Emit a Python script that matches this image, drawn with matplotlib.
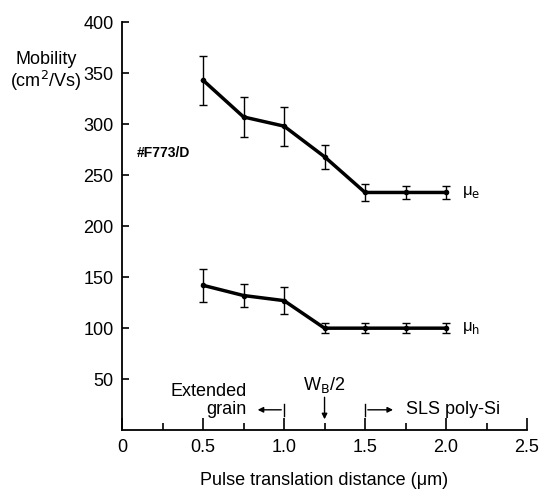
import matplotlib
matplotlib.use('Agg')
import matplotlib.pyplot as plt
from matplotlib.ticker import MultipleLocator

plt.rcParams['font.family'] = ['Liberation Sans', 'DejaVu Sans']

# --- data ---
distance = [0.5, 0.75, 1.0, 1.25, 1.5, 1.75, 2.0]
mu_e = [343, 307, 298, 268, 233, 233, 233]
mu_e_err = [24, 20, 19, 12, 8, 6, 6]
mu_h = [142, 132, 127, 100, 100, 100, 100]
mu_h_err = [16, 11, 13, 5, 5, 5, 5]

x_ticks = [0, 0.5, 1.0, 1.5, 2.0, 2.5]
x_tick_labels = ['0', '0.5', '1.0', '1.5', '2.0', '2.5']
y_ticks = [50, 100, 150, 200, 250, 300, 350, 400]

fs = 13

fig = plt.figure(figsize=(5.4, 4.9), dpi=100)
ax = fig.add_axes([0.226, 0.122, 0.75, 0.833])

for vals, errs in [(mu_e, mu_e_err), (mu_h, mu_h_err)]:
    ax.errorbar(distance, vals, yerr=errs, color='black', lw=2.5,
                elinewidth=1.0, capsize=3, capthick=1.0,
                marker='o', markersize=3, clip_on=False)

ax.text(2.1, mu_e[-1], '\u03bc$_\\mathrm{e}$', fontsize=12, va='center', ha='left')
ax.text(2.1, mu_h[-1], '\u03bc$_\\mathrm{h}$', fontsize=12, va='center', ha='left')
ax.text(0.09, 272, '#F773/D', fontsize=10, fontweight='bold', va='center')

ax.text(-0.47, 351, 'Mobility\n(cm$^2$/Vs)', fontsize=fs, ha='center',
        va='center', linespacing=1.05, clip_on=False)

# annotations near the bottom
ax.text(1.25, 44, 'W$_\\mathrm{B}$/2', fontsize=fs, ha='center', va='center')
ax.annotate('', xy=(1.25, 8), xytext=(1.25, 35),
            arrowprops=dict(arrowstyle='-|>', color='black', lw=1.0,
                            mutation_scale=8))
ax.text(0.77, 29, 'Extended\ngrain', fontsize=fs, ha='right', va='center',
        linespacing=1.1)
ax.annotate('', xy=(0.82, 20), xytext=(1.0, 20),
            arrowprops=dict(arrowstyle='-|>', color='black', lw=1.0,
                            mutation_scale=8))
ax.plot([1.0, 1.0], [14, 26], color='black', lw=1.0)
ax.annotate('', xy=(1.69, 20), xytext=(1.5, 20),
            arrowprops=dict(arrowstyle='-|>', color='black', lw=1.0,
                            mutation_scale=8))
ax.plot([1.5, 1.5], [14, 26], color='black', lw=1.0)
ax.text(1.75, 20, 'SLS poly-Si', fontsize=fs, ha='left', va='center')

ax.set_xlim(0, 2.5)
ax.set_ylim(0, 400)
ax.set_xticks(x_ticks)
ax.set_xticklabels(x_tick_labels)
ax.xaxis.set_minor_locator(MultipleLocator(0.25))
ax.set_yticks(y_ticks)
ax.tick_params(axis='both', which='major', direction='in', labelsize=fs,
               width=1.2)
ax.tick_params(axis='x', which='major', length=9, pad=6)
ax.tick_params(axis='x', which='minor', direction='in', length=5, width=1.2)
ax.tick_params(axis='y', which='major', length=5, pad=6)
ax.spines['top'].set_visible(False)
ax.spines['right'].set_visible(False)
ax.spines['left'].set_linewidth(1.3)
ax.spines['bottom'].set_linewidth(1.3)
ax.set_xlabel('Pulse translation distance (\u03bcm)', fontsize=fs, labelpad=12)

fig.savefig('out.png', dpi=100)
